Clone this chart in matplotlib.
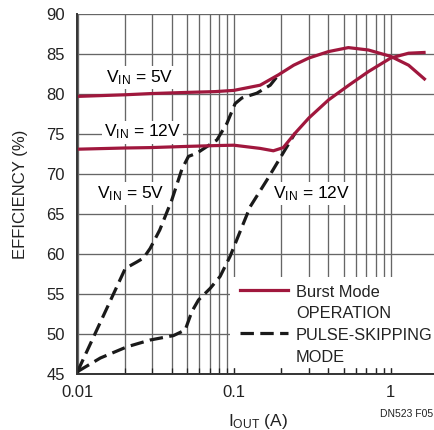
import numpy as np
import matplotlib
matplotlib.use("Agg")
import matplotlib.pyplot as plt
from matplotlib.patches import Rectangle

plt.rcParams['font.family'] = ['Liberation Sans', 'DejaVu Sans']
plt.rcParams['mathtext.fontset'] = 'custom'
plt.rcParams['mathtext.rm'] = 'Liberation Sans'
plt.rcParams['mathtext.it'] = 'Liberation Sans'

RED = '#a0173d'
DARK = '#1a1a1a'
GRID = '#666666'
LW = 2.3
DASH = (4.2, 2.0)

# Burst Mode operation, VIN = 5V
burst5_x = [0.01, 0.02, 0.0291, 0.05, 0.0757, 0.0995, 0.1466, 0.192, 0.24, 0.3, 0.4, 0.536, 0.72, 1.0, 1.3, 1.67]
burst5_y = [79.7, 79.9, 80.05, 80.2, 80.3, 80.45, 81.1, 82.4, 83.6, 84.5, 85.3, 85.8, 85.5, 84.7, 83.6, 81.75]

# Burst Mode operation, VIN = 12V
burst12_x = [0.01, 0.02, 0.0291, 0.05, 0.0757, 0.0995, 0.1466, 0.178, 0.206, 0.245, 0.3, 0.4, 0.54, 0.72, 1.0, 1.3, 1.67]
burst12_y = [73.1, 73.25, 73.3, 73.45, 73.55, 73.6, 73.2, 72.9, 73.3, 75.1, 77.0, 79.25, 81.1, 82.8, 84.5, 85.1, 85.2]

# Pulse-skipping mode, VIN = 5V
skip5_x = [0.01, 0.0202, 0.0239, 0.0264, 0.0291, 0.0335, 0.040, 0.0464, 0.0511, 0.0578,
           0.0776, 0.0898, 0.1015, 0.112, 0.1396, 0.170, 0.192]
skip5_y = [45.3, 58.2, 59.0, 59.5, 60.7, 63.0, 66.75, 70.6, 72.2, 72.6,
           74.25, 76.3, 78.8, 79.5, 80.1, 81.1, 82.4]

# Pulse-skipping mode, VIN = 12V
skip12_x = [0.01, 0.014, 0.0207, 0.0291, 0.041, 0.0487, 0.0537, 0.0592, 0.0703, 0.0814,
            0.0942, 0.1265, 0.162, 0.211, 0.245]
skip12_y = [45.3, 47.0, 48.4, 49.25, 49.8, 50.5, 52.8, 54.25, 55.7, 57.2,
            59.7, 65.9, 69.25, 73.0, 75.1]

y_ticks = [45, 50, 55, 60, 65, 70, 75, 80, 85, 90]
x_ticks = [0.01, 0.1, 1]
x_ticklabels = ['0.01', '0.1', '1']

fig = plt.figure(figsize=(4.35, 4.30), dpi=100)
ax = fig.add_axes([77.5 / 435, 56 / 430, 360.4 / 435, 360 / 430])

ax.set_xscale('log')
ax.set_xlim(0.01, 2)
ax.set_ylim(45, 90)

# grid
minor = [m * d for d in (0.01, 0.1, 1) for m in range(1, 10)] + [2]
for xv in minor:
    ax.axvline(xv, color=GRID, lw=0.95, zorder=1)
for yv in y_ticks:
    ax.axhline(yv, color=GRID, lw=0.95, zorder=1)

ax.plot(burst5_x, burst5_y, color=RED, lw=LW, zorder=4, solid_capstyle='butt')
ax.plot(burst12_x, burst12_y, color=RED, lw=LW, zorder=4, solid_capstyle='butt')
ax.plot(skip5_x, skip5_y, color=DARK, lw=LW, zorder=3, dashes=DASH)
ax.plot(skip12_x, skip12_y, color=DARK, lw=LW, zorder=3, dashes=DASH)

for s in ('top', 'right'):
    ax.spines[s].set_visible(False)
for s in ('left', 'bottom'):
    ax.spines[s].set_color('#333333')
    ax.spines[s].set_linewidth(1.4)
    ax.spines[s].set_zorder(6)

ax.set_yticks(y_ticks)
ax.set_xticks(x_ticks)
ax.set_xticklabels(x_ticklabels)
ax.xaxis.set_minor_locator(matplotlib.ticker.FixedLocator(minor))
ax.xaxis.set_minor_formatter(matplotlib.ticker.NullFormatter())
ax.tick_params(axis='both', which='both', direction='in', labelsize=12, colors='#222222')
ax.tick_params(axis='x', which='both', length=4, width=0.9, pad=8)
ax.tick_params(axis='y', length=0, pad=9)

box = dict(facecolor='white', edgecolor='none', pad=1.5)
ax.text(0.0251, 81.5, r'V$_{\mathrm{IN}}$ = 5V', ha='center', va='baseline', fontsize=12.5, bbox=box, zorder=5)
ax.text(0.0259, 74.66, r'V$_{\mathrm{IN}}$ = 12V', ha='center', va='baseline', fontsize=12.5, bbox=box, zorder=5)
ax.text(0.0217, 66.96, r'V$_{\mathrm{IN}}$ = 5V', ha='center', va='baseline', fontsize=12.5, bbox=box, zorder=5)
ax.text(0.313, 66.96, r'V$_{\mathrm{IN}}$ = 12V', ha='center', va='baseline', fontsize=12.5, bbox=box, zorder=5)

# legend
ax.add_patch(Rectangle((0.423, 0.017), 0.58, 0.252, transform=ax.transAxes,
                       facecolor='white', edgecolor='none', zorder=5))
ax.plot([0.451, 0.584], [0.233, 0.233], transform=ax.transAxes, color=RED, lw=LW, zorder=6)
ax.plot([0.451, 0.584], [0.114, 0.114], transform=ax.transAxes, color=DARK, lw=LW,
        dashes=DASH, zorder=6)
leg_lines = [('Burst Mode', 296.7), ('OPERATION', 317.7), ('PULSE-SKIPPING', 340), ('MODE', 361.7)]
for txt, py in leg_lines:
    ax.text(0.606, (374 - py) / 360, txt, transform=ax.transAxes, ha='left', va='baseline',
            fontsize=11.8, zorder=7, color='#222222')

fig.text(21 / 435, 1 - 194 / 430, 'EFFICIENCY (%)', rotation=90, ha='center', va='center',
         fontsize=12, color='#222222')
fig.text(258 / 435, 1 - 426 / 430, r'I$_{\mathrm{OUT}}$ (A)', ha='center', va='baseline',
         fontsize=12.5, color='#222222')
fig.text(380 / 435, 1 - 417 / 430, 'DN523 F05', ha='left', va='baseline', fontsize=7.5, color='#222222')

fig.savefig('out.png', dpi=100)
